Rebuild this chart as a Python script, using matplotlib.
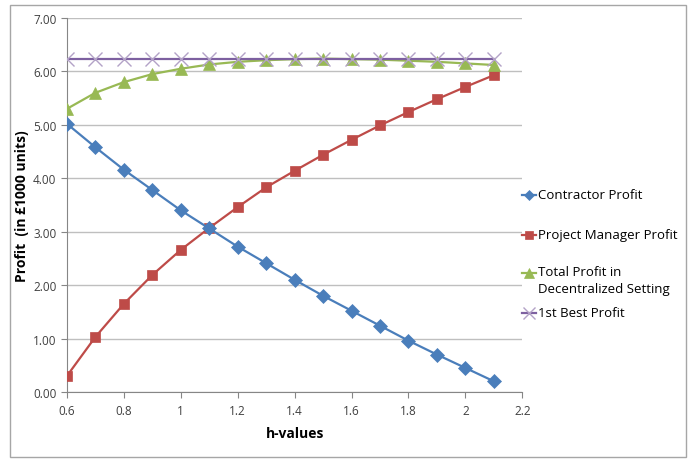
import matplotlib
matplotlib.use("Agg")
import matplotlib.pyplot as plt
from matplotlib.lines import Line2D
from matplotlib.patches import Rectangle
import numpy as np

h_values = [0.6, 0.7, 0.8, 0.9, 1.0, 1.1, 1.2, 1.3, 1.4, 1.5, 1.6, 1.7, 1.8, 1.9, 2.0, 2.1]
contractor = [5.02, 4.58, 4.16, 3.78, 3.40, 3.06, 2.72, 2.41, 2.10, 1.80, 1.52, 1.24, 0.96, 0.70, 0.45, 0.20]
project_manager = [0.30, 1.03, 1.65, 2.19, 2.66, 3.07, 3.46, 3.83, 4.14, 4.44, 4.72, 4.99, 5.24, 5.48, 5.71, 5.93]
total_decentral = [5.30, 5.60, 5.80, 5.95, 6.05, 6.13, 6.18, 6.21, 6.23, 6.24, 6.23, 6.22, 6.20, 6.18, 6.15, 6.12]
first_best = [6.24] * len(h_values)

labels = ["Contractor Profit", "Project Manager Profit",
          "Total Profit in\nDecentralized Setting", "1st Best Profit"]
x_ticks = [0.6, 0.8, 1.0, 1.2, 1.4, 1.6, 1.8, 2.0, 2.2]
x_tick_labels = ["0.6", "0.8", "1", "1.2", "1.4", "1.6", "1.8", "2", "2.2"]
y_ticks = [0, 1, 2, 3, 4, 5, 6, 7]

plt.rcParams["font.family"] = ["Open Sans", "DejaVu Sans"]

fig = plt.figure(figsize=(6.9, 4.6), dpi=100)
ax = fig.add_axes([0.097, 0.1457, 0.66, 0.813])

# outer chart border
fig.patches.append(Rectangle((10 / 690, 2 / 460), 676 / 690, 452 / 460,
                             transform=fig.transFigure, fill=False,
                             edgecolor="#A6A6A6", linewidth=1.0))

styles = [
    dict(color="#4A7EBB", marker="D", ms=7, mec="#4A7EBB", mew=0.5),
    dict(color="#BE4B48", marker="s", ms=6.5, mec="#BE4B48", mew=0.5),
    dict(color="#98B954", marker="^", ms=9, mec="#98B954", mew=0.5),
    dict(color="#7D60A0", marker="x", ms=10, mec="#B3A2C7", mew=1.0),
]
series = [contractor, project_manager, total_decentral, first_best]
for i in [1, 0, 2, 3]:
    st = styles[i]
    ax.plot(h_values, series[i], color=st["color"], linewidth=1.6, marker=st["marker"],
            markersize=st["ms"], markeredgecolor=st["mec"], markerfacecolor=st["color"],
            markeredgewidth=st["mew"], zorder=4 if i == 3 else 3)

ax.set_xlim(0.6, 2.2)
ax.set_ylim(0, 7)
ax.set_xticks(x_ticks)
ax.set_xticklabels(x_tick_labels)
ax.set_yticks(y_ticks)
ax.set_yticklabels([f"{v:.2f}" for v in y_ticks])
ax.tick_params(axis="both", labelsize=8.5, colors="#404040", length=4, color="#868686")
ax.tick_params(axis="x", pad=5)
ax.grid(axis="y", color="#BFBFBF", linewidth=1.0)
ax.set_axisbelow(True)
for side in ["top", "right"]:
    ax.spines[side].set_visible(False)
for side in ["left", "bottom"]:
    ax.spines[side].set_color("#868686")

ax.set_xlabel("h-values", fontsize=10, fontweight="bold", labelpad=6)
ax.set_ylabel("Profit  (in \u00a31000 units)", fontsize=10, fontweight="bold", labelpad=3)

# legend drawn beside the plot area
leg_y = [196, 236, 274, 314]
for st, yp, lab in zip(styles, leg_y, labels):
    yf = 1 - yp / 460
    fig.add_artist(Line2D([522 / 690, 536 / 690], [yf, yf], transform=fig.transFigure,
                          color=st["color"], linewidth=1.6))
    fig.add_artist(Line2D([529 / 690], [yf], transform=fig.transFigure, marker=st["marker"],
                          markersize=st["ms"] * 0.8, color=st["color"],
                          markeredgecolor=st["mec"], markeredgewidth=st["mew"]))
    if "\n" in lab:
        fig.text(538 / 690, yf + 8 / 460, lab, fontsize=9.5, va="top", ha="left",
                 linespacing=1.45)
    else:
        fig.text(538 / 690, yf, lab, fontsize=9.5, va="center", ha="left")

fig.savefig("out.png", dpi=100)
